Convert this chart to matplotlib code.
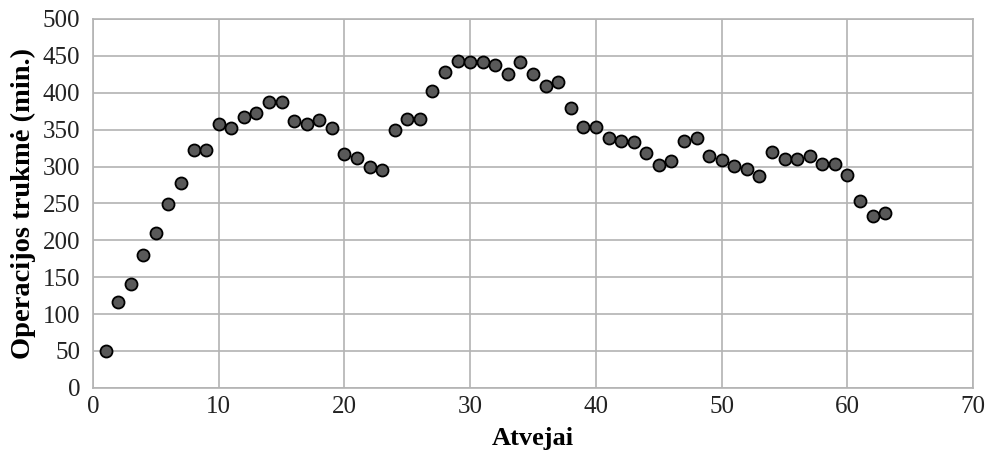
import matplotlib.pyplot as plt

# Duomenys nuskaityti nuo paveikslo
atvejai = list(range(1, 64))
trukme = [50, 116, 141, 180, 210, 249, 278, 323, 323, 357,
          352, 367, 373, 388, 387, 362, 357, 363, 352, 317,
          311, 300, 295, 350, 364, 364, 403, 428, 443, 442,
          442, 437, 426, 441, 425, 409, 414, 379, 354, 354,
          339, 334, 333, 318, 302, 307, 335, 339, 314, 309,
          301, 297, 287, 320, 310, 310, 314, 304, 304, 288,
          253, 233, 237]

x_ticks = [0, 10, 20, 30, 40, 50, 60, 70]
y_ticks = list(range(0, 501, 50))

plt.rcParams['font.family'] = ['Liberation Serif', 'DejaVu Serif']

fig = plt.figure(figsize=(9.89, 4.51), dpi=100)
ax = fig.add_axes([0.094, 0.14, 0.89, 0.818])

ax.scatter(atvejai, trukme, s=75, color='#595959', edgecolors='black',
           linewidths=1.3, zorder=3, clip_on=False)

ax.set_xlim(0, 70)
ax.set_ylim(0, 500)
ax.set_xticks(x_ticks)
ax.set_yticks(y_ticks)
ax.grid(True, color='#b3b3b3', linewidth=1.2)
ax.set_axisbelow(True)
for s in ax.spines.values():
    s.set_color('#b3b3b3')
    s.set_linewidth(1.2)
ax.tick_params(length=0, labelsize=18, colors='#222222')
ax.tick_params(axis='y', pad=9)
ax.tick_params(axis='x', pad=6)

ax.set_xlabel('Atvejai', fontsize=19, fontweight='bold', labelpad=6)
ax.set_ylabel('Operacijos trukmė (min.)', fontsize=20.5, fontweight='bold', labelpad=5)

fig.savefig('out.png')
